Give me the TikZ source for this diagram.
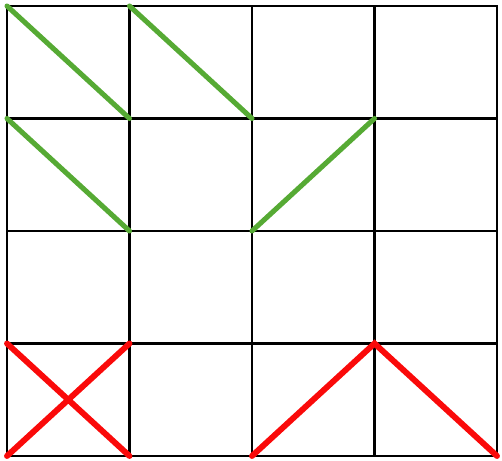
\documentclass[tikz,border=0pt]{standalone}
\usepackage{tikz}
\usetikzlibrary{calc}
\definecolor{slashgreen}{RGB}{86,170,52}
\definecolor{slashred}{RGB}{250,10,10}
\tikzset{gridline/.style={black, line width=2pt}, goodslash/.style={slashgreen, line width=3.6pt, line cap=round}, badslash/.style={slashred, line width=4.2pt, line cap=round}}

\begin{document}
\begin{tikzpicture}[thick, x=3.0625cm, y=-2.8125cm]
\useasboundingbox (-0.175cm,0.15cm) rectangle ++(12.55cm,-11.525cm);
% grid points p<column><row>, rows counted from the top
\foreach \i in {0,...,4} \foreach \j in {0,...,4} \coordinate (p\i\j) at (\i,\j);
\draw[gridline] (p00) rectangle (p44);
\foreach \k in {1,2,3} {\draw[gridline] (p\k0) -- (p\k4); \draw[gridline] (p0\k) -- (p4\k);}
% green slashes
\draw[goodslash] (p00) -- (p11) (p10) -- (p21) (p01) -- (p12) (p22) -- (p31);
% red slashes
\draw[badslash] (p03) -- (p14) (p04) -- (p13) (p24) -- (p33) -- (p44);
\end{tikzpicture}
\end{document}
